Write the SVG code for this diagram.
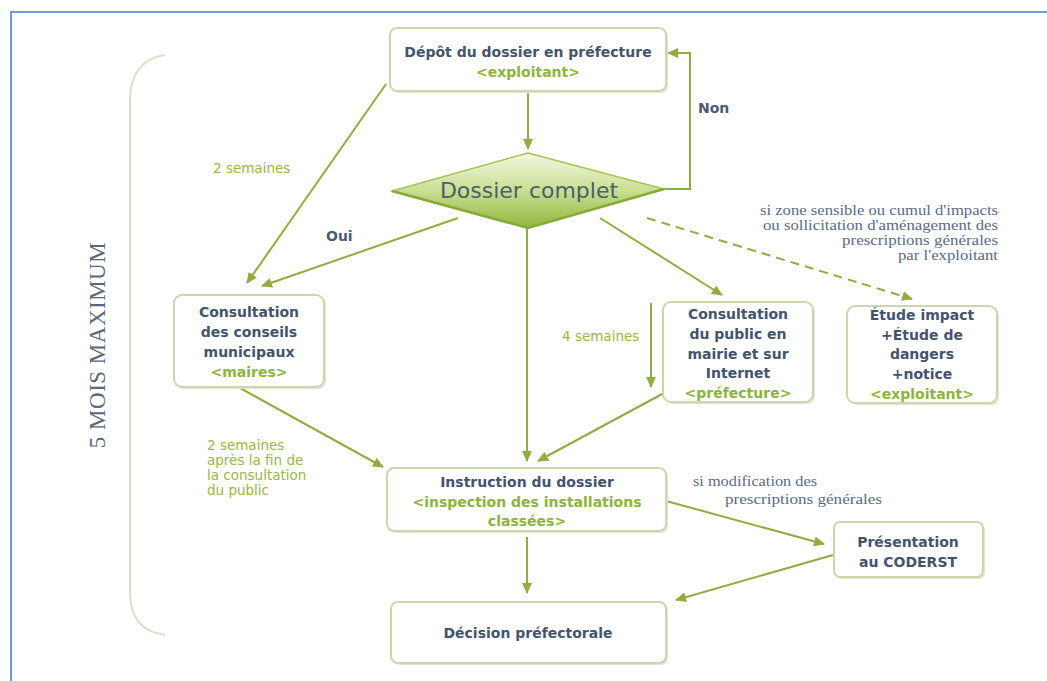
<svg xmlns="http://www.w3.org/2000/svg" width="1047" height="681" viewBox="0 0 1047 681">
<defs>
<style>
.box{fill:#ffffff;stroke:#ccd8ab;stroke-width:2}
.shadow{fill:#e2e2dc;stroke:none}
.t{font-family:"DejaVu Sans",Verdana,sans-serif;font-size:14px;font-weight:bold;fill:#43546c;text-anchor:middle}
.g{font-family:"DejaVu Sans",Verdana,sans-serif;font-size:14px;font-weight:bold;fill:#8db43c;text-anchor:middle}
.lbl{font-family:"DejaVu Sans",Verdana,sans-serif;font-size:13.5px;fill:#96b942}
.dark{font-family:"DejaVu Sans",Verdana,sans-serif;font-size:14px;font-weight:bold;fill:#4a5b72}
.ser{font-family:"Liberation Serif","Times New Roman",serif;font-size:15px;fill:#5a6b85}
.c{fill:none;stroke:#8fae3f;stroke-width:2}
</style>
<marker id="arr" markerWidth="12" markerHeight="10" refX="10" refY="5" orient="auto" markerUnits="userSpaceOnUse">
<path d="M0,0 L11,5 L0,10 Z" fill="#8fae3f"/>
</marker>
<linearGradient id="dg" x1="0" y1="0" x2="0" y2="1">
<stop offset="0" stop-color="#f3f7e2"/>
<stop offset="0.5" stop-color="#c9df92"/>
<stop offset="1" stop-color="#8fb63c"/>
</linearGradient>
</defs>

<rect width="1047" height="681" fill="#ffffff"/>
<path d="M11,681 L11,12 L1047,12" fill="none" stroke="#6c9fd9" stroke-width="2"/>

<g id="brace">
<path d="M165,55 C142,58 130,75 130,100 L130,592 C130,618 142,632 165,635" fill="none" stroke="#dadfc9" stroke-width="2"/>
<text x="0" y="0" transform="translate(105,345) rotate(-90)" text-anchor="middle" font-family="Liberation Serif,'Times New Roman',serif" font-size="23" letter-spacing="0.5" fill="#5a687a">5 MOIS MAXIMUM</text>
</g>

<g id="connectors">
<line class="c" x1="528" y1="92" x2="528" y2="149" marker-end="url(#arr)"/>
<polyline class="c" points="663,189 690,189 690,53 668,53" marker-end="url(#arr)"/>
<line class="c" x1="386" y1="84" x2="247" y2="283" marker-end="url(#arr)"/>
<line class="c" x1="458" y1="218" x2="262" y2="286" marker-end="url(#arr)"/>
<line class="c" x1="527" y1="228" x2="527" y2="461" marker-end="url(#arr)"/>
<line class="c" x1="600" y1="218" x2="722" y2="295" marker-end="url(#arr)"/>
<line class="c" x1="647" y1="218" x2="912" y2="299" stroke-dasharray="9,6" marker-end="url(#arr)"/>
<line class="c" x1="651" y1="303" x2="651" y2="387" stroke-width="1.5" marker-end="url(#arr)"/>
<line class="c" x1="664" y1="393" x2="538" y2="461" marker-end="url(#arr)"/>
<line class="c" x1="240" y1="388" x2="383" y2="467" marker-end="url(#arr)"/>
<line class="c" x1="527" y1="537" x2="527" y2="593" marker-end="url(#arr)"/>
<line class="c" x1="666" y1="501" x2="824" y2="544" marker-end="url(#arr)"/>
<line class="c" x1="833" y1="555" x2="676" y2="600" marker-end="url(#arr)"/>
</g>

<g id="labels">
<text class="dark" x="698" y="113">Non</text>
<text class="dark" x="326" y="241">Oui</text>
<text class="lbl" x="213" y="173">2 semaines</text>
<text class="lbl" x="562" y="341">4 semaines</text>
<text class="lbl" x="207" y="450">2 semaines</text>
<text class="lbl" x="207" y="465">après la fin de</text>
<text class="lbl" x="207" y="480">la consultation</text>
<text class="lbl" x="207" y="495">du public</text>
<g text-anchor="end">
<text class="ser" x="998" y="215" textLength="238" lengthAdjust="spacingAndGlyphs">si zone sensible ou cumul d'impacts</text>
<text class="ser" x="998" y="230" textLength="235" lengthAdjust="spacingAndGlyphs">ou sollicitation d'aménagement des</text>
<text class="ser" x="998" y="245" textLength="156" lengthAdjust="spacingAndGlyphs">prescriptions générales</text>
<text class="ser" x="998" y="260" textLength="100" lengthAdjust="spacingAndGlyphs">par l'exploitant</text>
</g>
<text class="ser" x="693" y="486" textLength="124" lengthAdjust="spacingAndGlyphs">si modification des</text>
<text class="ser" x="725" y="504" textLength="157" lengthAdjust="spacingAndGlyphs">prescriptions générales</text>
</g>

<g id="depot">
<rect class="shadow" x="392" y="30" width="276" height="63" rx="7"/>
<rect class="box" x="390" y="28" width="276" height="63" rx="7"/>
<text class="t" x="528" y="57">Dépôt du dossier en préfecture</text>
<text class="g" x="528" y="77">&lt;exploitant&gt;</text>
</g>

<g id="dossier-complet">
<polygon points="528,153 664,189 528,228 392,191" fill="url(#dg)" stroke="#a4c454" stroke-width="1.5"/>
<polyline points="392,191 528,228 664,189" fill="none" stroke="#86ab36" stroke-width="2.5"/>
<text x="529" y="198" text-anchor="middle" font-family="'DejaVu Sans',Verdana,sans-serif" font-size="22" fill="#4b5d6e">Dossier complet</text>
</g>

<g id="conseils">
<rect class="shadow" x="176" y="297" width="150" height="92" rx="8"/>
<rect class="box" x="174" y="295" width="150" height="92" rx="8"/>
<text class="t" x="249" y="317">Consultation</text>
<text class="t" x="249" y="337">des conseils</text>
<text class="t" x="249" y="357">municipaux</text>
<text class="g" x="249" y="377">&lt;maires&gt;</text>
</g>

<g id="public">
<rect class="shadow" x="665" y="304" width="150" height="100" rx="8"/>
<rect class="box" x="663" y="302" width="150" height="100" rx="8"/>
<text class="t" x="738" y="319">Consultation</text>
<text class="t" x="738" y="339">du public en</text>
<text class="t" x="738" y="359">mairie et sur</text>
<text class="t" x="738" y="378">Internet</text>
<text class="g" x="738" y="398">&lt;préfecture&gt;</text>
</g>

<g id="etude">
<rect class="shadow" x="849" y="308" width="150" height="97" rx="8"/>
<rect class="box" x="847" y="306" width="150" height="97" rx="8"/>
<text class="t" x="922" y="320">Étude impact</text>
<text class="t" x="922" y="340">+Étude de</text>
<text class="t" x="922" y="359">dangers</text>
<text class="t" x="922" y="379">+notice</text>
<text class="g" x="922" y="399">&lt;exploitant&gt;</text>
</g>

<g id="instruction">
<rect class="shadow" x="389" y="470" width="279" height="63" rx="7"/>
<rect class="box" x="387" y="468" width="279" height="63" rx="7"/>
<text class="t" x="527" y="487">Instruction du dossier</text>
<text class="g" x="527" y="507">&lt;inspection des installations</text>
<text class="g" x="527" y="526">classées&gt;</text>
</g>

<g id="coderst">
<rect class="shadow" x="836" y="524" width="149" height="55" rx="6"/>
<rect class="box" x="834" y="522" width="149" height="55" rx="6"/>
<text class="t" x="908" y="547">Présentation</text>
<text class="t" x="908" y="567">au CODERST</text>
</g>

<g id="decision">
<rect class="shadow" x="393" y="604" width="275" height="61" rx="7"/>
<rect class="box" x="391" y="602" width="275" height="61" rx="7"/>
<text class="t" x="528" y="638">Décision préfectorale</text>
</g>
</svg>
